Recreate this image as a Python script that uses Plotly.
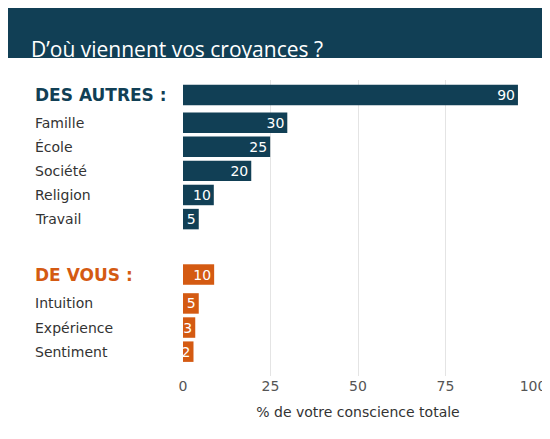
import plotly.graph_objects as go

categories = ["DES AUTRES :", "Famille", "École", "Société", "Religion", "Travail",
              "DE VOUS :", "Intuition", "Expérience", "Sentiment"]
bar_lengths = [95.7, 29.8, 24.9, 19.5, 8.8, 4.5, 8.9, 4.5, 3.5, 3.0]
value_labels = ["90", "30", "25", "20", "10", "5", "10", "5", "3", "2"]
groups = ["autres"] * 6 + ["vous"] * 4
y_pos = [0, 1.15, 2.15, 3.15, 4.15, 5.15, 7.45, 8.65, 9.65, 10.65]
ticks = [0, 25, 50, 75, 100]

TEAL = "#113f55"
ORANGE = "#d45a12"
colors = [TEAL if g == "autres" else ORANGE for g in groups]

fig = go.Figure(go.Bar(
    x=bar_lengths, y=y_pos, orientation="h", width=0.85,
    marker=dict(color=colors, line=dict(width=0)),
    text=value_labels, textposition="inside", insidetextanchor="end",
    textfont=dict(color="white", size=14, family="DejaVu Sans"),
    cliponaxis=False, hoverinfo="skip",
))

for cat, y, g in zip(categories, y_pos, groups):
    header = cat.endswith(":")
    fig.add_annotation(
        x=-0.43, xref="paper", y=y, yref="y", text=f"<b>{cat}</b>" if header else cat,
        showarrow=False, xanchor="left",
        font=dict(size=17 if header else 14, family="DejaVu Sans",
                  color=(TEAL if g == "autres" else ORANGE) if header else "#333333"),
    )

fig.add_shape(type="rect", xref="paper", yref="paper", x0=-0.5, x1=1.072, y0=1.074, y1=1.25,
              fillcolor=TEAL, line=dict(width=0), layer="below")
fig.add_annotation(x=-0.44, xref="paper", y=1.159, yref="paper", text="D’où viennent vos croyances ?",
                   showarrow=False, xanchor="left",
                   font=dict(size=21, family="Open Sans", color="white"))

fig.update_layout(
    width=550, height=439, margin=dict(l=175, r=25, t=72, b=71),
    paper_bgcolor="white", plot_bgcolor="white", showlegend=False,
    uniformtext=dict(minsize=14, mode="show"),
    xaxis=dict(range=[0, 100], tickvals=ticks, showgrid=True, gridcolor="#e4e4e4",
               zeroline=False, tickfont=dict(size=14, family="DejaVu Sans", color="#555555"),
               title=dict(text="% de votre conscience totale", standoff=14,
                          font=dict(size=14, family="DejaVu Sans", color="#333333"))),
    yaxis=dict(range=[11.66, -0.62], showticklabels=False, showgrid=False, zeroline=False),
)

fig.write_html("out.html")
